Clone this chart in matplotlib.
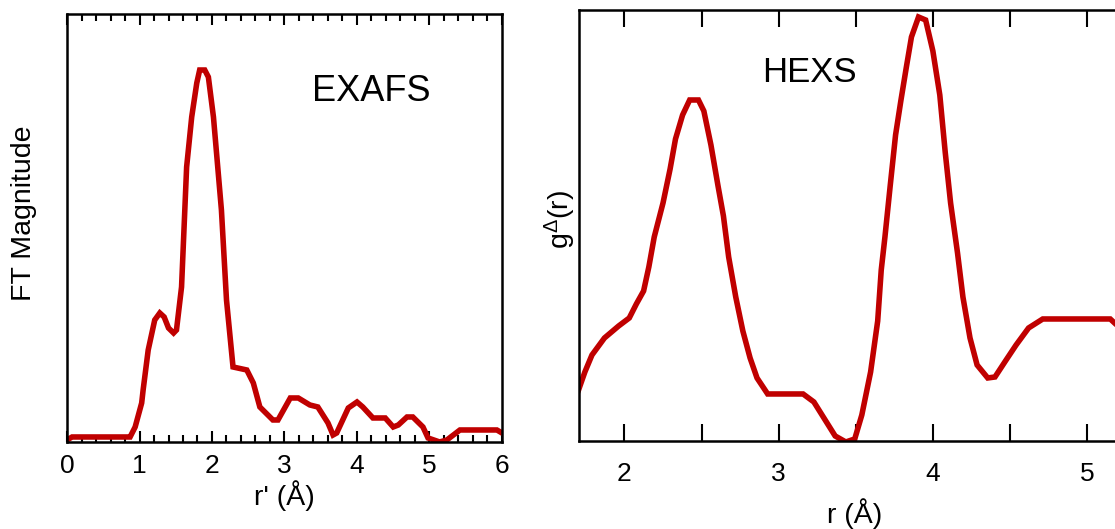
import matplotlib
matplotlib.use('Agg')
import matplotlib.pyplot as plt
from matplotlib.ticker import MultipleLocator

plt.rcParams['font.family'] = 'Liberation Sans'
plt.rcParams['mathtext.fontset'] = 'custom'
plt.rcParams['mathtext.rm'] = 'Liberation Sans'
plt.rcParams['mathtext.it'] = 'Liberation Sans'

RED = '#C00000'

# EXAFS Fourier transform magnitude (arbitrary units)
exafs_r = [0.00, 0.07, 0.30, 0.60, 0.83, 0.87, 0.94, 1.03, 1.05, 1.12, 1.21, 1.28,
           1.34, 1.40, 1.47, 1.51, 1.58, 1.65, 1.72, 1.79, 1.83, 1.90, 1.95, 2.02,
           2.13, 2.20, 2.29, 2.48, 2.57, 2.66, 2.84, 2.91, 3.08, 3.19, 3.35, 3.46,
           3.60, 3.67, 3.72, 3.88, 4.00, 4.08, 4.22, 4.39, 4.50, 4.57, 4.69, 4.77,
           4.91, 4.98, 5.14, 5.24, 5.42, 5.93, 6.00]
exafs_ft = [2, 5, 5, 5, 5, 5, 15, 39, 52, 92, 122, 129, 125, 114, 109, 112, 155,
            275, 325, 359, 372, 372, 365, 325, 232, 142, 75, 72, 59, 35, 22, 22,
            44, 44, 37, 35, 19, 7, 9, 34, 40, 35, 24, 24, 15, 17, 25, 25, 15, 4,
            0, 2, 12, 12, 9]

# HEXS differential pair distribution function (arbitrary units)
hexs_r = [1.702, 1.743, 1.789, 1.870, 1.962, 2.031, 2.077, 2.124, 2.158, 2.193,
          2.250, 2.296, 2.331, 2.377, 2.423, 2.480, 2.515, 2.561, 2.607, 2.642,
          2.676, 2.722, 2.768, 2.815, 2.860, 2.929, 3.159, 3.229, 3.298, 3.367,
          3.436, 3.494, 3.540, 3.597, 3.643, 3.666, 3.690, 3.724, 3.759, 3.793,
          3.828, 3.862, 3.908, 3.954, 4.001, 4.046, 4.081, 4.116, 4.161, 4.196,
          4.242, 4.288, 4.357, 4.404, 4.472, 4.541, 4.622, 4.714, 5.152, 5.18]
hexs_g = [51, 69, 86, 103, 115, 123, 137, 150, 174, 204, 238, 272, 302, 326, 341,
          341, 330, 296, 255, 225, 184, 144, 110, 83, 63, 47, 47, 39, 22, 5, -1, 2,
          26, 69, 120, 171, 204, 255, 306, 340, 373, 404, 424, 421, 390, 346, 289,
          238, 188, 144, 103, 76, 63, 64, 80, 96, 113, 122, 122, 118]

fig = plt.figure(figsize=(11.15, 5.29), dpi=100)

# left panel: EXAFS
ax1 = fig.add_axes([0.0601, 0.1645, 0.3901, 0.809])
ax1.plot(exafs_r, exafs_ft, color=RED, lw=4, solid_joinstyle='miter')
ax1.set_xlim(0, 6)
ax1.set_ylim(0, 428)
ax1.xaxis.set_major_locator(MultipleLocator(1))
ax1.xaxis.set_minor_locator(MultipleLocator(0.2))
ax1.tick_params(axis='x', which='both', direction='in', top=True, labelsize=19, pad=9)
ax1.tick_params(axis='x', which='major', length=8, width=1.5)
ax1.tick_params(axis='x', which='minor', length=5, width=1.5)
ax1.set_yticks([])
ax1.set_xlabel("r' (\u00c5)", fontsize=20.5, labelpad=1)
ax1.set_ylabel('FT Magnitude', fontsize=20.5)
ax1.yaxis.set_label_coords(-0.069, 0.535)
ax1.text(0.70, 0.82, 'EXAFS', transform=ax1.transAxes, fontsize=26,
         ha='center', va='center')
for s in ax1.spines.values():
    s.set_linewidth(1.8)

# right panel: HEXS (extends past the figure edge on the right)
ax2 = fig.add_axes([0.5193, 0.1664, 0.494, 0.8147])
ax2.plot(hexs_r, hexs_g, color=RED, lw=4, solid_joinstyle='miter')
ax2.set_xlim(1.705, 5.279)
ax2.set_ylim(0, 431)
ax2.xaxis.set_major_locator(MultipleLocator(1))
ax2.xaxis.set_minor_locator(MultipleLocator(0.5))
ax2.tick_params(axis='x', which='both', direction='in', top=True, labelsize=19,
                length=12, width=1.5, pad=15)
ax2.set_yticks([])
ax2.set_xlabel('r (\u00c5)', fontsize=20.5, labelpad=9)
ax2.set_ylabel(r'g$^{\Delta}$(r)', fontsize=20.5)
ax2.yaxis.set_label_coords(-0.002, 0.513)
ax2.text(0.419, 0.856, 'HEXS', transform=ax2.transAxes, fontsize=25,
         ha='center', va='center')
for s in ax2.spines.values():
    s.set_linewidth(1.8)

fig.savefig('out.png', dpi=100)
